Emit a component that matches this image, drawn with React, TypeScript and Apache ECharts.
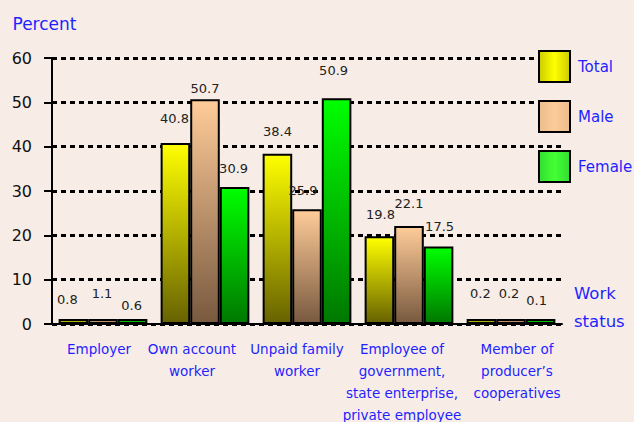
import React, { useEffect, useRef } from "react";
import * as echarts from "echarts";

const categories = [
  "Employer",
  "Own account\nworker",
  "Unpaid family\nworker",
  "Employee of\ngovernment,\nstate enterprise,\nprivate employee",
  "Member of\nproducer\u2019s\ncooperatives",
];
const seriesNames = ["Total", "Male", "Female"];
const totalValues = [0.8, 40.8, 38.4, 19.8, 0.2];
const maleValues = [1.1, 50.7, 25.9, 22.1, 0.2];
const femaleValues = [0.6, 30.9, 50.9, 17.5, 0.1];
const yTicks = [0, 10, 20, 30, 40, 50, 60];
const xAxisTitle = "Work\nstatus";
const yAxisTitle = "Percent";

// label offsets (style only)
const totalLabelOffsets = [[-6, -13], [-1, -18], [0, -16], [1, -15], [-1, -19]];
const maleLabelOffsets = [[-1, -19], [0, -4], [-4, -12], [0, -16], [-2, -19]];
const femaleLabelOffsets = [[-1, -7], [-1, -12], [-3, -21], [1, -13], [-4, -12]];
const catLabelShift = [-4, -13, -10, -7, 6];

const BLUE = "#1f1fff";
const BG = "#f7ede6";

function vgrad(top: string, bottom: string) {
  return new echarts.graphic.LinearGradient(0, 0, 0, 1, [
    { offset: 0, color: top },
    { offset: 1, color: bottom },
  ]);
}
function hgrad(edge: string, mid: string) {
  return new echarts.graphic.LinearGradient(0, 0, 1, 0, [
    { offset: 0, color: edge },
    { offset: 0.5, color: mid },
    { offset: 1, color: edge },
  ]);
}

export default function App() {
  const ref = useRef<HTMLDivElement>(null);
  useEffect(() => {
    if (!ref.current) return;
    const chart = echarts.init(ref.current, undefined, { renderer: "svg" });
    const barColors = [
      vgrad("#ffff00", "#676200"),
      vgrad("#ffcc99", "#78593f"),
      vgrad("#00ff00", "#007800"),
    ];
    const legendColors = [
      hgrad("#cccc00", "#ffff00"),
      hgrad("#ecbc8c", "#fbcb99"),
      hgrad("#33dd33", "#44ff33"),
    ];
    const valueSets = [totalValues, maleValues, femaleValues];
    const offsetSets = [totalLabelOffsets, maleLabelOffsets, femaleLabelOffsets];
    const rich: Record<string, any> = {};
    catLabelShift.forEach((s, i) => {
      rich["c" + i] = {
        color: BLUE,
        fontSize: 13.5,
        fontFamily: "DejaVu Sans",
        lineHeight: 22,
        padding: s < 0 ? [0, -2 * s, 0, 0] : [0, 0, 0, 2 * s],
      };
    });
    const option: any = {
      animation: false,
      backgroundColor: BG,
      grid: { left: 52, right: 72, top: 58, bottom: 96, containLabel: false },
      legend: {
        orient: "vertical",
        left: 538,
        top: 50,
        icon: "rect",
        itemWidth: 31,
        itemHeight: 31,
        itemGap: 17,
        padding: 0,
        textStyle: {
          color: BLUE,
          fontSize: 15,
          fontFamily: "DejaVu Sans",
          padding: [0, 0, 0, 3],
        },
        data: seriesNames.map((n, i) => ({
          name: n,
          icon: "rect",
          itemStyle: { color: legendColors[i], borderColor: "#000", borderWidth: 2 },
        })),
      },
      graphic: [
        {
          type: "text",
          left: 574,
          top: 279,
          style: {
            text: xAxisTitle,
            fill: BLUE,
            fontSize: 16.5,
            fontFamily: "DejaVu Sans",
            lineHeight: 28,
            align: "center",
            x: 25,
          },
        },
      ],
      xAxis: {
        type: "category",
        data: categories,
        axisLine: { lineStyle: { color: "#000", width: 2 } },
        axisTick: { length: 6, lineStyle: { color: "#000", width: 2 } },
        axisLabel: {
          interval: 0,
          margin: 14,
          formatter: (v: string, i: number) =>
            v
              .split("\n")
              .map((line) => `{c${i}|${line}}`)
              .join("\n"),
          rich,
        },
      },
      yAxis: {
        type: "value",
        min: yTicks[0],
        max: yTicks[yTicks.length - 1],
        interval: 10,
        name: yAxisTitle,
        nameLocation: "end",
        nameGap: 26,
        nameTextStyle: {
          color: BLUE,
          fontSize: 17,
          fontFamily: "DejaVu Sans",
          align: "center",
          padding: [0, 15, 0, 0],
        },
        axisLine: { show: true, lineStyle: { color: "#000", width: 2 } },
        axisTick: { show: true, length: 8, lineStyle: { color: "#000", width: 2 } },
        axisLabel: {
          margin: 20,
          color: "#111",
          fontSize: 16,
          fontFamily: "DejaVu Sans",
        },
        splitLine: {
          show: true,
          lineStyle: { color: "#000", width: 3, type: [5, 4] },
        },
      },
      series: seriesNames.map((n, si) => ({
        name: n,
        type: "bar",
        barGap: "0%",
        barCategoryGap: "13%",
        barMinHeight: 5,
        z: 3,
        itemStyle: { color: barColors[si], borderColor: "#000", borderWidth: 2 },
        label: {
          show: true,
          position: "top",
          distance: 0,
          color: "#222",
          fontSize: 13,
          fontFamily: "DejaVu Sans",
        },
        data: valueSets[si].map((v, di) => ({
          value: v,
          label: { offset: offsetSets[si][di] },
        })),
      })),
    };
    chart.setOption(option);
    return () => chart.dispose();
  }, []);
  return (
    <div
      ref={ref}
      style={{ position: "absolute", left: 0, top: 0, width: 634, height: 422 }}
    />
  );
}
